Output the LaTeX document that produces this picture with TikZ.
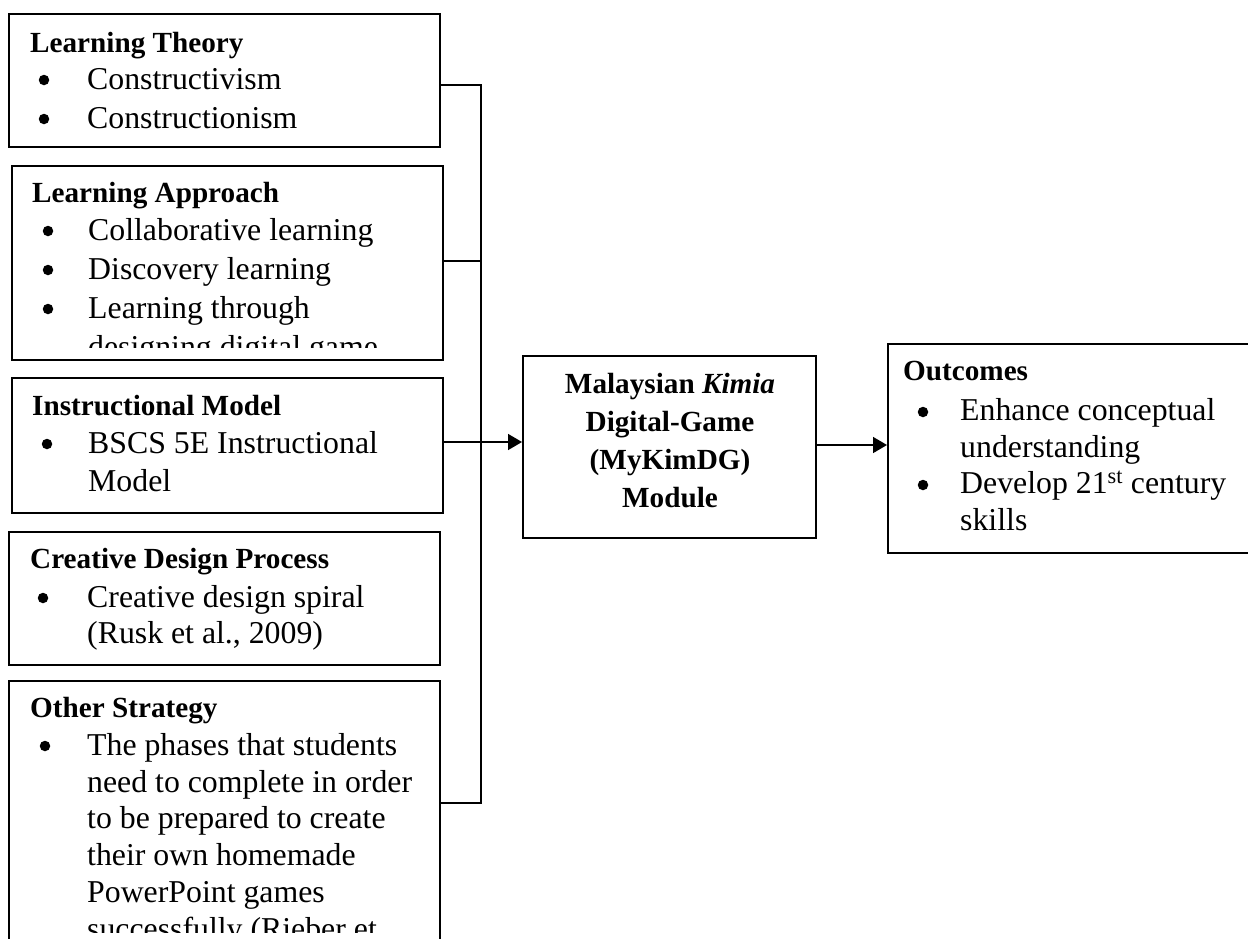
\documentclass[tikz,border=0pt]{standalone}
\usepackage{fontspec}
\setmainfont{Liberation Serif}
\usetikzlibrary{arrows.meta}
\tikzset{
  box/.style={draw=black, line width=2pt, inner sep=0pt, anchor=north west},
  conn/.style={line width=1.6pt},
  arr/.style={conn, -{Triangle[length=14pt,width=16pt]}},
  body/.style={anchor=base west, inner sep=0pt, font=\fontsize{31.8}{36}\selectfont},
  ttl/.style={anchor=base west, inner sep=0pt, font=\fontsize{29.2}{34}\selectfont\bfseries},
  ctr/.style={anchor=base, inner sep=0pt, font=\fontsize{29.2}{34}\selectfont\bfseries},
  dot/.style={circle, fill=black, inner sep=0pt, minimum size=10.5pt},
}
\begin{document}
\begin{tikzpicture}[x=1pt,y=-1pt]
\useasboundingbox (0,0) rectangle (1248,938);
\fill[white] (0,0) rectangle (1248,938);
\clip (0,0) rectangle (1248,938);

% boxes
\node[box, minimum width=431pt, minimum height=133pt] (b1) at (8,13) {};
\node[box, minimum width=431pt, minimum height=194pt] (b2) at (11,165) {};
\node[box, minimum width=431pt, minimum height=135pt] (b3) at (11,377) {};
\node[box, minimum width=431pt, minimum height=133pt] (b4) at (8,531) {};
\node[box, minimum width=431pt, minimum height=320pt] (b5) at (8,680) {};
\node[box, minimum width=293pt, minimum height=182pt] (bc) at (522,355) {};
\node[box, minimum width=380pt, minimum height=209pt] (bo) at (887,343) {};

% connectors
\coordinate (j1) at (481,85);
\coordinate (j2) at (481,261);
\coordinate (j5) at (481,803);
\coordinate (ja) at (481,442);
\coordinate (jb) at (850,445);
\draw[conn] (b1.east |- j1) -- (j1) -- (j5) -- (b5.east |- j5);
\draw[conn] (b2.east |- j2) -- (j2);
\draw[arr] (b3.east |- ja) -- (bc.west |- ja);
\draw[arr] (bc.east |- jb) -- (bo.west |- jb);

% box 1
\node[ttl] (h1) at (30,52) {Learning Theory};
\node[dot] (d1a) at (44,80) {};
\node[body] (t1a) at (87,89) {Constructivism};
\node[dot] (d1b) at (44,119) {};
\node[body] (t1b) at (87,128) {Constructionism};

% box 2
\begin{scope}
\clip (11,165) rectangle (442,347);
\node[ttl] (h2) at (32,202) {Learning Approach};
\node[dot] (d2a) at (48,231) {};
\node[body] (t2a) at (88,240) {Collaborative learning};
\node[dot] (d2b) at (48,270) {};
\node[body] (t2b) at (88,279) {Discovery learning};
\node[dot] (d2c) at (48,309) {};
\node[body] (t2c) at (88,318) {Learning through};
\node[body] (t2d) at (88,357) {designing digital game};
\end{scope}

% box 3
\node[ttl] (h3) at (32,415) {Instructional Model};
\node[dot] (d3a) at (47,444) {};
\node[body] (t3a) at (88,453) {BSCS 5E Instructional};
\node[body] (t3b) at (88,491) {Model};

% box 4
\node[ttl] (h4) at (30,568) {Creative Design Process};
\node[dot] (d4a) at (43,598) {};
\node[body] (t4a) at (87,607) {Creative design spiral};
\node[body] (t4b) at (87,643) {(Rusk et al., 2009)};

% box 5
\begin{scope}
\clip (8,680) rectangle (439,932);
\node[ttl] (h5) at (30,717) {Other Strategy};
\node[dot] (d5a) at (45,746) {};
\node[body] (t5a) at (87,755) {The phases that students};
\node[body] (t5b) at (87,792) {need to complete in order};
\node[body] (t5c) at (87,828) {to be prepared to create};
\node[body] (t5d) at (87,865) {their own homemade};
\node[body] (t5e) at (87,902) {PowerPoint games};
\node[body] (t5f) at (87,939) {successfully (Rieber et};
\end{scope}

% centre box
\node[ctr] (c1) at (670,393) {Malaysian \textit{Kimia}};
\node[ctr] (c2) at (670,431) {Digital-Game};
\node[ctr] (c3) at (670,469) {(MyKimDG)};
\node[ctr] (c4) at (670,507) {Module};

% outcomes
\node[ttl] (h6) at (903,380) {Outcomes};
\node[dot] (d6a) at (923,412) {};
\node[body] (t6a) at (960,420) {Enhance conceptual};
\node[body] (t6b) at (960,457) {understanding};
\node[dot] (d6b) at (923,485) {};
\node[body] (t6c) at (960,493) {Develop 21\textsuperscript{st} century};
\node[body] (t6d) at (960,530) {skills};
\end{tikzpicture}
\end{document}
